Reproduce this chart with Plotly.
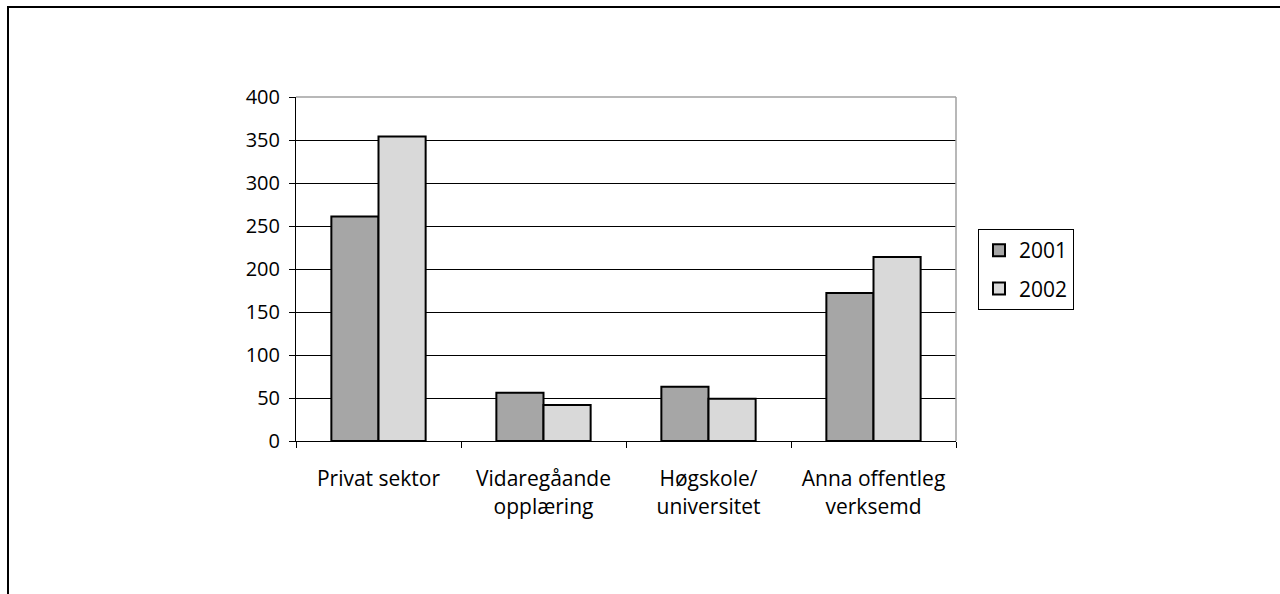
import plotly.graph_objects as go

categories = ["Privat sektor", "Vidaregåande<br>opplæring", "Høgskole/<br>universitet", "Anna offentleg<br>verksemd"]
series_names = ["2001", "2002"]
values_2001 = [261, 56, 63, 172]
values_2002 = [354, 42, 49, 214]
y_ticks = [0, 50, 100, 150, 200, 250, 300, 350, 400]

colors = ["#a6a6a6", "#d9d9d9"]
FONT = "Open Sans, Noto Sans, sans-serif"
FS = 20

fig = go.Figure()
for name, vals, col in zip(series_names, [values_2001, values_2002], colors):
    fig.add_trace(go.Bar(
        x=categories, y=vals, name=name, legendgroup=name,
        marker=dict(color=col, line=dict(color="black", width=2)),
    ))

L, R, T, B = 296, 956, 97, 441
W, H = 1280, 594
pw, ph = R - L, B - T

def px(x):
    return (x - L) / pw

def py(y):
    return (B - y) / ph

fig.update_layout(
    width=W, height=H,
    margin=dict(l=L, r=W - R, t=T, b=H - B, pad=0),
    paper_bgcolor="white", plot_bgcolor="white",
    barmode="group", bargap=1.5 / 3.5, bargroupgap=0,
    font=dict(family=FONT, size=FS, color="black"),
    showlegend=True,
    legend=dict(
        x=px(978), y=py(229), xanchor="left", yanchor="top",
        bordercolor="black", borderwidth=1, bgcolor="white",
        font=dict(family=FONT, size=21, color="black"),
        itemsizing="constant", tracegroupgap=8, itemwidth=30,
    ),
    xaxis=dict(
        type="category", showgrid=False, showline=True, linecolor="black", linewidth=1,
        ticks="outside", tickson="boundaries", ticklen=6, tickcolor="black",
        ticklabelstandoff=19, tickfont=dict(family=FONT, size=21, color="black"),
        fixedrange=True,
    ),
    yaxis=dict(
        range=[0, 400], tickvals=y_ticks, showgrid=True, gridcolor="black", gridwidth=1,
        showline=True, linecolor="black", linewidth=1, zeroline=False,
        ticks="outside", ticklen=6, tickcolor="black", ticklabelstandoff=5,
        tickfont=dict(family=FONT, size=FS, color="black"),
        fixedrange=True,
    ),
    shapes=[
        dict(type="line", xref="paper", yref="paper", x0=0, x1=1, y0=1, y1=1,
             line=dict(color="#a0a0a0", width=1.5), layer="above"),
        dict(type="line", xref="paper", yref="paper", x0=1, x1=1, y0=0, y1=1,
             line=dict(color="#a0a0a0", width=1.5), layer="above"),
        dict(type="line", xref="paper", yref="paper", x0=px(7), x1=px(1281), y0=py(7), y1=py(7),
             line=dict(color="black", width=2), layer="above"),
        dict(type="line", xref="paper", yref="paper", x0=px(8), x1=px(8), y0=py(7), y1=py(595),
             line=dict(color="black", width=2), layer="above"),
    ],
)

fig.write_html("out.html", config={"displayModeBar": False},
               post_script="document.body.style.margin='0';")
